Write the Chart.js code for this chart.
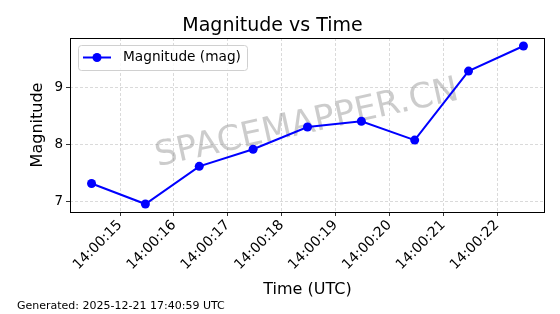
<!DOCTYPE html>
<html>
<head>
<meta charset="utf-8">
<script src="https://cdn.jsdelivr.net/npm/chart.js@4"></script>
<style>
  html, body { margin: 0; padding: 0; background: #fff; }
  #wrap { width: 560px; height: 314px; position: relative; }
</style>
</head>
<body>
<div id="wrap"><canvas id="mag-chart" width="560" height="314"></canvas></div>
<script>
// Seconds after 14:00:00 UTC for each observation
const timeSeconds = [14.47, 15.47, 16.47, 17.47, 18.48, 19.48, 20.47, 21.47, 22.49];
const magnitudes = [7.31, 6.95, 7.61, 7.91, 8.30, 8.40, 8.07, 9.28, 9.72];

const xTickValues = [15, 16, 17, 18, 19, 20, 21, 22];
const xTickLabels = ['14:00:15', '14:00:16', '14:00:17', '14:00:18', '14:00:19', '14:00:20', '14:00:21', '14:00:22'];
const yTickValues = [7, 8, 9];

const FONT = 'DejaVu Sans';
const generatedText = 'Generated: 2025-12-21 17:40:59 UTC';
const watermarkText = 'SPACEMAPPER.CN';

// Watermark behind the line
const watermarkPlugin = {
    id: 'watermark',
    beforeDatasetsDraw(chart) {
        const ctx = chart.ctx;
        ctx.save();
        ctx.translate(307, 124);
        ctx.rotate(-12.5 * Math.PI / 180);
        ctx.font = `34.5px "${FONT}"`;
        ctx.fillStyle = 'rgba(128,128,128,0.4)';
        ctx.textAlign = 'center';
        ctx.textBaseline = 'middle';
        ctx.fillText(watermarkText, 0, 0);
        ctx.restore();
    }
};

// Frame, legend box inside plot, footer text
const extrasPlugin = {
    id: 'extras',
    afterDraw(chart) {
        const ctx = chart.ctx;
        const a = chart.chartArea;
        ctx.save();
        ctx.strokeStyle = '#000';
        ctx.lineWidth = 1;
        ctx.strokeRect(Math.round(a.left) + 0.5, Math.round(a.top) + 0.5,
            Math.round(a.right - a.left) - 1, Math.round(a.bottom - a.top));

        // legend
        const ds = chart.data.datasets[0];
        const bx = 78.5, by = 45.5, bw = 169, bh = 25, r = 3;
        ctx.fillStyle = 'rgba(255,255,255,0.8)';
        ctx.strokeStyle = '#d0d0d0';
        ctx.beginPath();
        ctx.moveTo(bx + r, by);
        ctx.arcTo(bx + bw, by, bx + bw, by + bh, r);
        ctx.arcTo(bx + bw, by + bh, bx, by + bh, r);
        ctx.arcTo(bx, by + bh, bx, by, r);
        ctx.arcTo(bx, by, bx + bw, by, r);
        ctx.closePath();
        ctx.fill();
        ctx.stroke();

        const ly = 57.5;
        ctx.strokeStyle = ds.borderColor;
        ctx.lineWidth = ds.borderWidth;
        ctx.beginPath();
        ctx.moveTo(83, ly);
        ctx.lineTo(111, ly);
        ctx.stroke();
        ctx.fillStyle = ds.pointBackgroundColor;
        ctx.beginPath();
        ctx.arc(97, ly, ds.pointRadius, 0, Math.PI * 2);
        ctx.fill();

        ctx.fillStyle = '#000';
        ctx.font = `13.7px "${FONT}"`;
        ctx.textAlign = 'left';
        ctx.textBaseline = 'middle';
        ctx.fillText(ds.label, 123, ly);

        // footer
        ctx.font = `11px "${FONT}"`;
        ctx.textBaseline = 'alphabetic';
        ctx.fillText(generatedText, 17, 309);
        ctx.restore();
    }
};

const ctx = document.getElementById('mag-chart').getContext('2d');
const chart = new Chart(ctx, {
    type: 'line',
    data: {
        datasets: [{
            label: 'Magnitude (mag)',
            data: timeSeconds.map((t, i) => ({ x: t, y: magnitudes[i] })),
            borderColor: '#0000ff',
            backgroundColor: '#0000ff',
            pointBackgroundColor: '#0000ff',
            pointBorderColor: '#0000ff',
            borderWidth: 2,
            pointRadius: 4.5,
            pointBorderWidth: 0,
            tension: 0
        }]
    },
    options: {
        responsive: false,
        animation: false,
        layout: { padding: { left: 0, right: 15, top: 0, bottom: 14 } },
        plugins: {
            legend: { display: false },
            tooltip: { enabled: false },
            title: {
                display: true,
                text: 'Magnitude vs Time',
                color: '#000',
                font: { family: FONT, size: 19, weight: 'normal' },
                padding: { top: 14.5, bottom: 0.7 }
            }
        },
        scales: {
            x: {
                type: 'linear',
                min: 14.07,
                max: 22.89,
                afterBuildTicks: scale => {
                    scale.ticks = xTickValues.map(v => ({ value: v }));
                },
                afterFit: scale => { scale.height = 88; },
                ticks: {
                    color: '#000',
                    font: { family: FONT, size: 14 },
                    maxRotation: 45,
                    minRotation: 45,
                    padding: 1,
                    callback: value => xTickLabels[xTickValues.indexOf(value)]
                },
                grid: {
                    color: 'rgba(176,176,176,0.6)',
                    tickColor: '#000',
                    tickLength: 4,
                    lineWidth: 0.8
                },
                border: { display: false, dash: [3, 2] },
                title: {
                    display: true,
                    text: 'Time (UTC)',
                    color: '#000',
                    font: { family: FONT, size: 16 },
                    padding: { top: 0, bottom: 1 }
                }
            },
            y: {
                min: 6.81,
                max: 9.86,
                afterBuildTicks: scale => {
                    scale.ticks = yTickValues.map(v => ({ value: v }));
                },
                afterFit: scale => { scale.width = 70; },
                ticks: {
                    color: '#000',
                    font: { family: FONT, size: 13.5 },
                    padding: 3
                },
                grid: {
                    color: 'rgba(176,176,176,0.6)',
                    tickColor: '#000',
                    tickLength: 4,
                    lineWidth: 0.8
                },
                border: { display: false, dash: [3, 2] },
                title: {
                    display: true,
                    text: 'Magnitude',
                    color: '#000',
                    font: { family: FONT, size: 16 },
                    padding: { top: 28.4, bottom: 0 }
                }
            }
        }
    },
    plugins: [watermarkPlugin, extrasPlugin]
});
</script>
</body>
</html>
